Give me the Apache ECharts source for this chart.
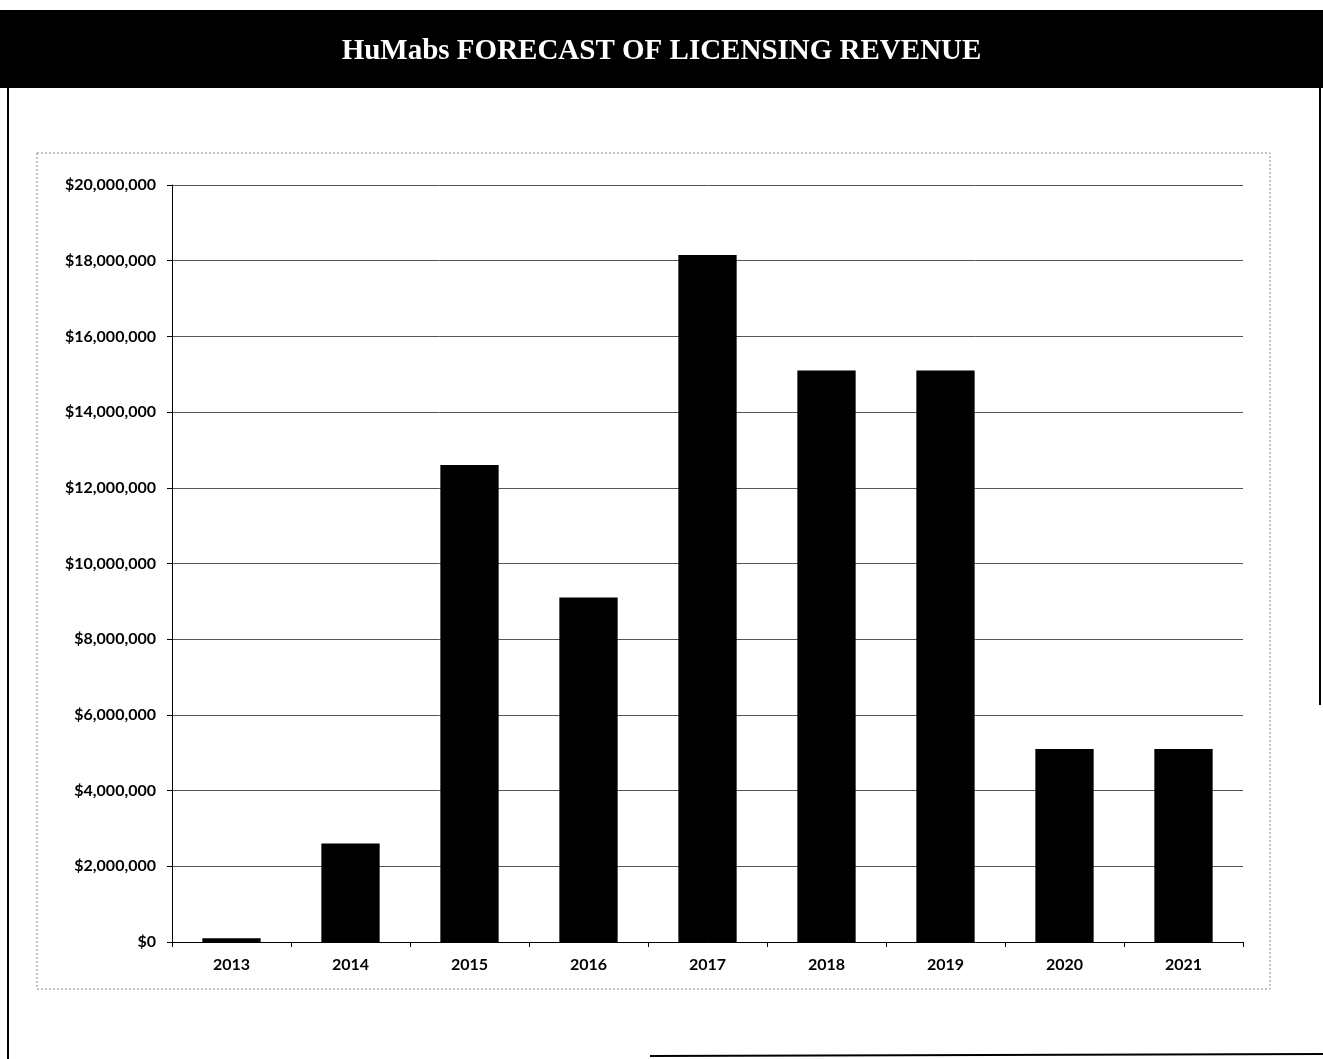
<!DOCTYPE html>
<html>
<head>
<meta charset="utf-8">
<script src="https://cdn.jsdelivr.net/npm/echarts@6/dist/echarts.min.js"></script>
<style>html,body{margin:0;padding:0;background:#fff}#c{width:1323px;height:1059px}</style>
</head>
<body>
<div id="c"></div>
<script>
const years = ['2013','2014','2015','2016','2017','2018','2019','2020','2021'];
const revenue = [100000, 2600000, 12600000, 9100000, 18150000, 15100000, 15100000, 5100000, 5100000];
const titleText = 'HuMabs FORECAST OF LICENSING REVENUE';

const chart = echarts.init(document.getElementById('c'));
const fmt = v => '$' + v.toLocaleString('en-US');
chart.setOption({
  backgroundColor: '#fff',
  animation: false,
  title: {
    text: titleText,
    left: 'center',
    top: 32,
    textStyle: {color: '#fff', fontFamily: 'Liberation Serif', fontWeight: 'bold', fontSize: 29}
  },
  graphic: [
    {type: 'rect', z: -1, shape: {x: 0, y: 10, width: 1323, height: 78}, style: {fill: '#000'}},
    {type: 'line', shape: {x1: 8, y1: 88, x2: 8, y2: 1059}, style: {stroke: '#000', lineWidth: 2}},
    {type: 'line', shape: {x1: 1320, y1: 88, x2: 1320, y2: 705}, style: {stroke: '#000', lineWidth: 2}},
    {type: 'line', shape: {x1: 650, y1: 1056, x2: 1323, y2: 1054}, style: {stroke: '#000', lineWidth: 2}},
    {type: 'rect', shape: {x: 37, y: 153, width: 1233, height: 836}, style: {fill: 'none', stroke: '#888', lineWidth: 1, lineDash: [2, 2]}}
  ],
  grid: {left: 172, right: 80, top: 185, bottom: 117},
  xAxis: {
    type: 'category',
    data: years,
    axisLine: {lineStyle: {color: '#000', width: 1}},
    axisTick: {show: true, alignWithLabel: false, length: 5, lineStyle: {color: '#000'}},
    axisLabel: {color: '#000', fontFamily: 'Lato', fontSize: 16, fontWeight: 'bold', margin: 15}
  },
  yAxis: {
    type: 'value',
    min: 0, max: 20000000, interval: 2000000,
    axisLine: {show: true, lineStyle: {color: '#000', width: 1}},
    axisTick: {show: true, length: 5, lineStyle: {color: '#000'}},
    splitLine: {lineStyle: {color: '#555', width: 1}},
    axisLabel: {color: '#000', fontFamily: 'Lato', fontSize: 16, fontWeight: 'bold', margin: 16, formatter: fmt}
  },
  series: [{
    type: 'bar',
    data: revenue,
    barWidth: '49%',
    itemStyle: {color: '#000'}
  }]
});
</script>
</body>
</html>
